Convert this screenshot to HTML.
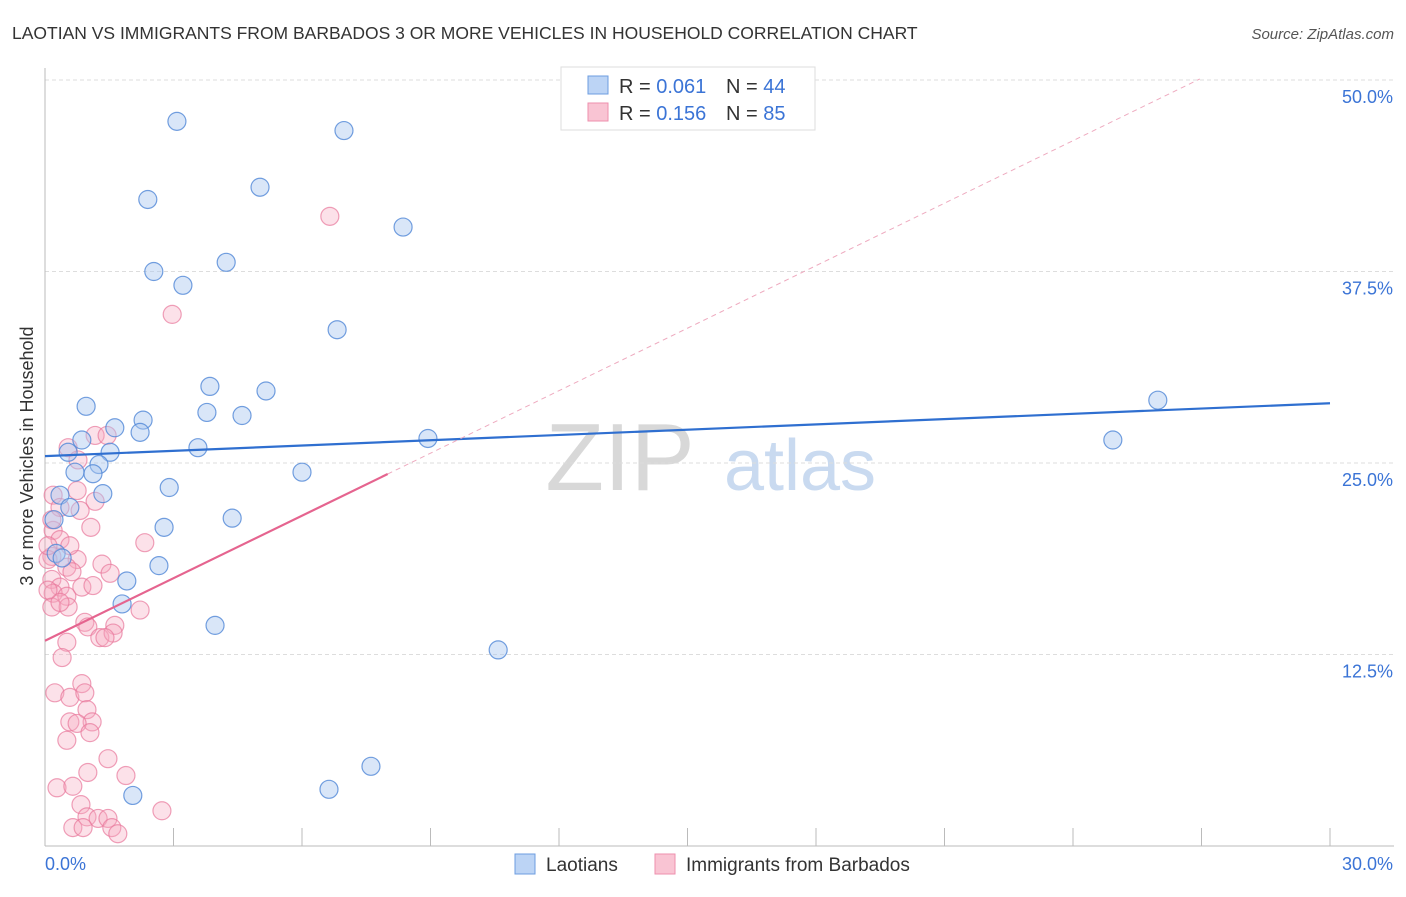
<!DOCTYPE html>
<html><head><meta charset="utf-8"><style>
body{margin:0;background:#fff;font-family:"Liberation Sans",sans-serif;}
svg text{font-family:"Liberation Sans",sans-serif;}
</style></head><body>
<svg id="chart" width="1406" height="892" xmlns="http://www.w3.org/2000/svg">
<text x="12" y="39" font-size="17.5" fill="#333">LAOTIAN VS IMMIGRANTS FROM BARBADOS 3 OR MORE VEHICLES IN HOUSEHOLD CORRELATION CHART</text>
<text x="1394" y="39" font-size="15" fill="#555" font-style="italic" text-anchor="end">Source: ZipAtlas.com</text>
<text x="620" y="490" font-size="96" fill="#d8d8d8" font-family="Liberation Serif" text-anchor="middle">ZIP</text>
<text x="800" y="490" font-size="72" fill="#c9daf0" text-anchor="middle">atlas</text>
<g id="grid"></g>
<g id="axes"></g>
<g id="marks"></g>
<text x="33" y="456" font-size="18" fill="#333" text-anchor="middle" transform="rotate(-90 33 456)">3 or more Vehicles in Household</text>
<g>
<rect x="561" y="67" width="254" height="63" fill="#fff" stroke="#ddd"/>
<rect x="588" y="76" width="20" height="18" fill="#bcd4f5" stroke="#6d9de0"/>
<rect x="588" y="103" width="20" height="18" fill="#f9c4d3" stroke="#ee8fae"/>
<text x="619" y="93" font-size="20" fill="#333">R = <tspan fill="#3b74d6">0.061</tspan><tspan x="726">N = </tspan><tspan fill="#3b74d6">44</tspan></text>
<text x="619" y="120" font-size="20" fill="#333">R = <tspan fill="#3b74d6">0.156</tspan><tspan x="726">N = </tspan><tspan fill="#3b74d6">85</tspan></text>
</g>
<g>
<rect x="515" y="854" width="20" height="20" fill="#bcd4f5" stroke="#6d9de0"/>
<text x="546" y="871" font-size="19" fill="#333">Laotians</text>
<rect x="655" y="854" width="20" height="20" fill="#f9c4d3" stroke="#ee8fae"/>
<text x="686" y="871" font-size="19" fill="#333">Immigrants from Barbados</text>
</g>
</svg>
<script>
const yTicks=[12.5,25,37.5,50];
const yTickLabels=["12.5%","25.0%","37.5%","50.0%"];
const xTickLabels=["0.0%","30.0%"];
const blueX=[3.08,6.98,2.40,5.02,8.36,2.54,4.23,3.22,6.82,3.85,5.16,0.96,3.78,4.60,2.29,1.63,2.22,0.86,8.94,25.98,24.93,3.57,0.54,1.52,1.26,0.70,1.12,6.00,2.90,1.35,0.35,0.58,4.37,0.21,2.78,0.26,0.40,2.66,1.91,1.80,3.97,10.58,7.61,6.63,2.05];
const blueY=[47.3,46.7,42.2,43.0,40.4,37.5,38.1,36.6,33.7,30.0,29.7,28.7,28.3,28.1,27.8,27.3,27.0,26.5,26.6,29.1,26.5,26.0,25.7,25.7,24.9,24.4,24.3,24.4,23.4,23.0,22.9,22.1,21.4,21.3,20.8,19.1,18.8,18.3,17.3,15.8,14.4,12.8,5.2,3.7,3.3];
const pinkX=[1.17,1.45,0.54,0.77,0.75,1.17,0.19,0.35,0.82,0.19,1.07,0.35,2.33,0.16,0.75,0.51,1.33,1.52,0.63,0.16,0.35,0.86,1.12,0.19,0.51,0.16,0.54,0.35,2.22,0.93,1.00,1.63,1.28,1.59,1.40,0.51,0.40,0.86,0.23,0.58,0.93,0.98,0.58,1.10,0.75,1.05,0.51,1.47,1.00,1.89,0.28,0.65,0.84,2.73,0.98,1.24,1.47,0.65,0.89,1.56,1.70,6.65,2.97,0.07,0.07,0.07,0.58,0.16];
const pinkY=[26.8,26.8,26.0,25.2,23.2,22.5,22.9,22.1,21.9,20.6,20.8,20.0,19.8,18.9,18.7,18.2,18.4,17.8,17.9,17.4,16.9,16.9,17.0,16.5,16.3,15.6,15.6,15.9,15.4,14.6,14.3,14.4,13.6,13.9,13.6,13.3,12.3,10.6,10.0,9.7,10.0,8.9,8.1,8.1,8.0,7.4,6.9,5.7,4.8,4.6,3.8,3.9,2.7,2.3,1.9,1.8,1.8,1.2,1.2,1.2,0.8,41.1,34.7,18.7,16.7,19.6,19.6,21.3];
const blueTrend=[25.45,28.9];
const pinkTrend=[13.4,1.36];
const pinkSolidEnd=8.0, pinkDashEnd=26.96;

const X0=45,X1=1330,Y0=846,Y1=80;
const sx=v=>X0+(v/30)*(X1-X0);
const sy=v=>Y0-(v/50)*(Y0-Y1);
const NS="http://www.w3.org/2000/svg";
function mk(tag,attrs,parent){const e=document.createElementNS(NS,tag);for(const k in attrs)e.setAttribute(k,attrs[k]);document.getElementById(parent).appendChild(e);return e;}

yTicks.forEach((t,i)=>{
  const g=mk('line',{x1:X0,x2:1394,y1:sy(t),y2:sy(t),stroke:'#ddd','stroke-dasharray':'4,3'},'grid');
  
  
  const l=mk('text',{x:1393,y:sy(t)+23,'font-size':18,fill:'#3b74d6','text-anchor':'end'},'grid');
  l.textContent=yTickLabels[i];
  
  
});
let a=mk('line',{x1:X0,x2:X0,y1:68,y2:Y0,stroke:'#bbb'},'axes');


a=mk('line',{x1:X0,x2:1394,y1:Y0,y2:Y0,stroke:'#bbb'},'axes');


for(let i=1;i<=10;i++){
  const t=mk('line',{x1:sx(i*3),x2:sx(i*3),y1:Y0,y2:Y0-18,stroke:'#bbb'},'axes');
  
  
}
let xl=mk('text',{x:45,y:870,'font-size':18,fill:'#3b74d6'},'axes');xl.textContent=xTickLabels[0];


xl=mk('text',{x:1393,y:870,'font-size':18,fill:'#3b74d6','text-anchor':'end'},'axes');xl.textContent=xTickLabels[1];



pinkX.forEach((x,i)=>{
  const c=mk('circle',{cx:sx(x),cy:sy(pinkY[i]),r:9,fill:'rgba(246,168,192,0.35)',stroke:'rgba(232,120,155,0.7)','stroke-width':1.2},'marks');
  
  
});
blueX.forEach((x,i)=>{
  const c=mk('circle',{cx:sx(x),cy:sy(blueY[i]),r:9,fill:'rgba(170,200,240,0.45)',stroke:'rgba(80,135,215,0.8)','stroke-width':1.2},'marks');
  
  
});
let tl=mk('line',{x1:sx(0),y1:sy(blueTrend[0]),x2:sx(30),y2:sy(blueTrend[1]),stroke:'#2f6fd0','stroke-width':2.2},'marks');


tl=mk('line',{x1:sx(pinkSolidEnd),y1:sy(pinkTrend[0]+pinkTrend[1]*pinkSolidEnd),x2:sx(pinkDashEnd),y2:sy(pinkTrend[0]+pinkTrend[1]*pinkDashEnd),stroke:'#eeaabf','stroke-width':1,'stroke-dasharray':'5,4'},'marks');


tl=mk('line',{x1:sx(0),y1:sy(pinkTrend[0]),x2:sx(pinkSolidEnd),y2:sy(pinkTrend[0]+pinkTrend[1]*pinkSolidEnd),stroke:'#e5648f','stroke-width':2.2},'marks');


</script>
</body></html>
